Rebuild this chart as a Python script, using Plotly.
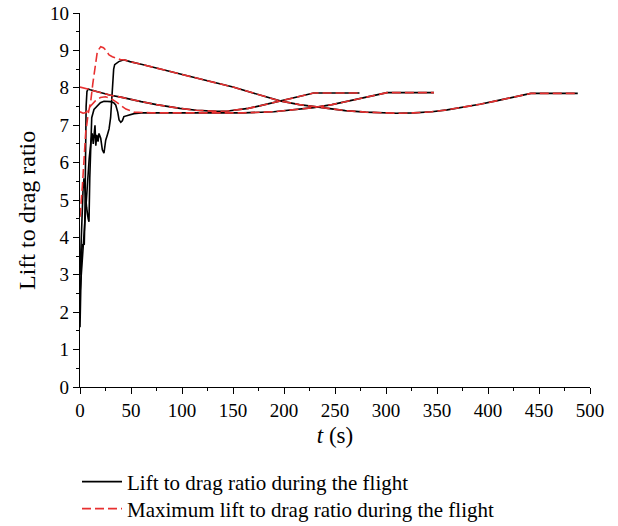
import plotly.graph_objects as go

# ---- Flight 1 (ends at 274 s) ----
f1_early_t = [0, 0.5, 1.5, 2.3, 4.2, 4.8, 5.4, 6.0, 6.8, 8, 10]
f1_early_ld = [1.6, 2.8, 3.6, 3.8, 3.82, 4.6, 6.3, 7.5, 7.9, 7.97, 7.95]
f1_early_max_t = [0, 2, 4, 6, 8, 10]
f1_early_max = [8.02, 8.01, 8.0, 7.99, 7.97, 7.95]
f1_cruise_t = [15, 20, 30, 40, 49, 60, 75, 90, 98, 114, 125, 134, 145, 155,
               165, 175, 185, 198, 210, 220, 229, 274]
f1_cruise = [7.91, 7.87, 7.8, 7.75, 7.69, 7.63, 7.55, 7.48, 7.45, 7.4, 7.38,
             7.37, 7.38, 7.41, 7.45, 7.51, 7.57, 7.65, 7.73, 7.8, 7.86, 7.86]

# ---- Flight 2 (ends at 347 s) ----
f2_early_t = [0, 1, 2, 3, 3.9, 5, 6.5, 8, 8.8, 9.6, 10.5, 11.5, 13.7, 17, 20,
              23.5, 30, 33, 35, 37, 38.3, 40, 41.5, 43, 48, 53, 60]
f2_early_ld = [3.0, 3.9, 4.7, 5.3, 5.58, 5.2, 4.8, 4.5, 4.42, 5.6, 6.7, 7.2,
               7.42, 7.52, 7.6, 7.64, 7.63, 7.6, 7.54, 7.35, 7.14, 7.08, 7.12,
               7.23, 7.28, 7.31, 7.33]
f2_early_max_t = [0, 3, 6, 10, 15, 20, 25, 30, 35, 40, 45, 53, 60]
f2_early_max = [7.36, 7.32, 7.34, 7.5, 7.65, 7.74, 7.76, 7.72, 7.63, 7.52,
                7.43, 7.35, 7.34]
f2_cruise_t = [70, 100, 130, 160, 190, 210, 229, 247, 265, 283, 301, 347]
f2_cruise = [7.33, 7.33, 7.32, 7.33, 7.36, 7.41, 7.47, 7.55, 7.65, 7.76,
             7.87, 7.87]

# ---- Flight 3 (ends at 488 s) ----
f3_early_t = [0, 1, 2, 3, 4, 5, 6, 7, 8, 9, 10.5, 12, 13, 14, 14.7, 15.5,
              16.5, 17.7, 18.6, 20.3, 21.9, 23.5, 25.2, 26.8, 28.5, 30, 31.5,
              33, 34, 38, 43]
f3_early_ld = [2.5, 2.9, 3.3, 3.6, 4.0, 4.4, 4.9, 5.4, 5.8, 6.1, 6.5, 6.78,
               6.5, 6.8, 7.0, 6.45, 6.74, 6.56, 6.78, 6.65, 6.34, 6.25, 6.6,
               6.74, 6.9, 7.2, 7.9, 8.5, 8.62, 8.7, 8.75]
f3_early_max_t = [0, 1, 2.3, 4, 5.6, 8, 10.5, 12.5, 14.4, 17, 20.3, 23, 25.2,
                  28.5, 31.7, 36.6, 40, 43]
f3_early_max = [4.55, 4.85, 5.36, 6.1, 6.8, 7.3, 7.63, 8.1, 8.52, 8.97, 9.1,
                9.07, 9.01, 8.88, 8.83, 8.77, 8.75, 8.75]
f3_cruise_t = [49, 60, 80, 98, 120, 150, 175, 196, 215, 235, 260, 280, 294,
               310, 327, 345, 360, 376, 392, 408, 425, 442, 488]
f3_cruise = [8.70, 8.63, 8.5, 8.38, 8.22, 8.02, 7.83, 7.65, 7.55, 7.47, 7.39,
             7.35, 7.33, 7.32, 7.33, 7.36, 7.41, 7.48, 7.56, 7.65, 7.74, 7.85,
             7.85]

x_ticks = [0, 50, 100, 150, 200, 250, 300, 350, 400, 450, 500]
y_ticks = [0, 1, 2, 3, 4, 5, 6, 7, 8, 9, 10]

FONT = "Liberation Serif"
BLACK = "#000000"
RED = "#E83030"
W, H = 618, 526
ML, MR, MT, MB = 80, 28, 13, 139

flights = [
    (f1_early_t, f1_early_ld, f1_early_max_t, f1_early_max, f1_cruise_t, f1_cruise),
    (f2_early_t, f2_early_ld, f2_early_max_t, f2_early_max, f2_cruise_t, f2_cruise),
    (f3_early_t, f3_early_ld, f3_early_max_t, f3_early_max, f3_cruise_t, f3_cruise),
]

fig = go.Figure()

# actual lift-to-drag ratio (solid black)
for i, (et, eld, _, _, ct, cv) in enumerate(flights):
    fig.add_trace(go.Scatter(
        x=et + ct, y=eld + cv, mode="lines",
        line=dict(color=BLACK, width=1.6),
        name="Lift to drag ratio during the flight",
        legend="legend", legendgroup="ld", showlegend=(i == 0),
    ))

# maximum lift-to-drag ratio (dashed red), drawn on top
for i, (_, _, mt, mv, ct, cv) in enumerate(flights):
    fig.add_trace(go.Scatter(
        x=mt + ct, y=mv + cv, mode="lines",
        line=dict(color=RED, width=1.6, dash="9px,4px"),
        name="Maximum lift to drag ratio during the flight",
        legend="legend2", legendgroup="max", showlegend=(i == 0),
    ))

axis_common = dict(
    showline=True, linecolor="black", linewidth=1.2, mirror=False,
    showgrid=False, zeroline=False, automargin=False,
    ticks="outside", ticklen=6, tickwidth=1.2, tickcolor="black",
    tickfont=dict(family=FONT, size=19, color="black"),
)

legend_common = dict(
    xref="container", yref="container", xanchor="left", yanchor="middle",
    orientation="h", bgcolor="rgba(0,0,0,0)", borderwidth=0,
    font=dict(family=FONT, size=21, color="black"), itemwidth=40,
)

plot_w = W - ML - MR
plot_h = H - MT - MB

fig.update_layout(
    width=W, height=H,
    margin=dict(l=ML, r=MR, t=MT, b=MB, autoexpand=False),
    paper_bgcolor="white", plot_bgcolor="white",
    font=dict(family=FONT, color="black"),
    xaxis=dict(
        range=[0, 500], tickvals=x_ticks,
        minor=dict(dtick=25, ticks="outside", ticklen=3, tickcolor="black", tickwidth=1),
        title=dict(text="<i>t</i> (s)", font=dict(family=FONT, size=23), standoff=6),
        **axis_common,
    ),
    yaxis=dict(
        range=[0, 10], tickvals=y_ticks,
        minor=dict(dtick=0.5, ticks="outside", ticklen=3, tickcolor="black", tickwidth=1),
        **axis_common,
    ),
    legend=dict(x=77 / W, y=1 - 482 / H, **legend_common),
    legend2=dict(x=77 / W, y=1 - 509 / H, **legend_common),
    annotations=[dict(
        text="Lift to drag ratio", textangle=-90, showarrow=False,
        xref="paper", yref="paper",
        x=(27 - ML) / plot_w, y=(H - MB - 211) / plot_h,
        xanchor="center", yanchor="middle",
        font=dict(family=FONT, size=24, color="black"),
    )],
)

fig.write_html("out.html")
